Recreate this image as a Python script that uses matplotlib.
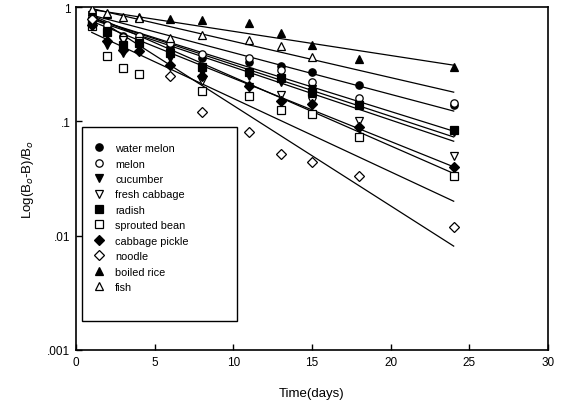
import matplotlib
matplotlib.use("Agg")
import matplotlib.pyplot as plt
from matplotlib.patches import Rectangle
from matplotlib.ticker import FixedLocator, NullLocator

plt.rcParams['font.family'] = ['Liberation Sans', 'DejaVu Sans']

# series: sampling days and fraction values
names = ['water melon', 'melon', 'cucumber', 'fresh cabbage', 'radish',
         'sprouted bean', 'cabbage pickle', 'noodle', 'boiled rice', 'fish']

days = {
    'water melon':    [1, 2, 3, 4, 6, 8, 11, 13, 15, 18, 24],
    'melon':          [1, 2, 3, 4, 6, 8, 11, 13, 15, 18, 24],
    'cucumber':       [1, 2, 3, 4, 6, 8, 11, 13, 15, 18, 24],
    'fresh cabbage':  [1, 2, 3, 4, 6, 8, 11, 13, 15, 18, 24],
    'radish':         [1, 2, 3, 4, 6, 8, 11, 13, 15, 18, 24],
    'sprouted bean':  [1, 2, 3, 4, 8, 11, 13, 15, 18, 24],
    'cabbage pickle': [1, 2, 3, 4, 6, 8, 11, 13, 15, 18, 24],
    'noodle':         [1, 6, 8, 11, 13, 15, 18, 24],
    'boiled rice':    [1, 2, 4, 6, 8, 11, 13, 15, 18, 24],
    'fish':           [1, 2, 3, 4, 6, 8, 11, 13, 15],
}
values = {
    'water melon':    [0.80, 0.64, 0.56, 0.50, 0.45, 0.36, 0.33, 0.305, 0.27, 0.21, 0.14],
    'melon':          [0.85, 0.70, 0.55, 0.56, 0.48, 0.39, 0.36, 0.28, 0.22, 0.16, 0.145],
    'cucumber':       [0.72, 0.47, 0.40, 0.45, 0.36, 0.27, 0.25, 0.22, 0.19, 0.14, 0.08],
    'fresh cabbage':  [0.85, 0.62, 0.52, 0.50, 0.40, 0.225, 0.20, 0.17, 0.15, 0.10, 0.05],
    'radish':         [0.75, 0.60, 0.47, 0.48, 0.40, 0.30, 0.27, 0.24, 0.18, 0.14, 0.084],
    'sprouted bean':  [0.68, 0.37, 0.29, 0.26, 0.184, 0.166, 0.125, 0.116, 0.073, 0.033],
    'cabbage pickle': [0.70, 0.50, 0.42, 0.41, 0.31, 0.25, 0.203, 0.15, 0.142, 0.089, 0.040],
    'noodle':         [0.78, 0.249, 0.121, 0.081, 0.052, 0.044, 0.033, 0.012],
    'boiled rice':    [0.93, 0.87, 0.82, 0.785, 0.77, 0.72, 0.59, 0.47, 0.35, 0.30],
    'fish':           [0.97, 0.88, 0.82, 0.80, 0.54, 0.57, 0.52, 0.456, 0.365],
}

# fitted lines, read at day 1 and day 24
fit_days = [1, 24]
fit_values = {
    'water melon':    [0.85, 0.123],
    'melon':          [0.80, 0.082],
    'cucumber':       [0.78, 0.067],
    'fresh cabbage':  [0.85, 0.035],
    'radish':         [0.80, 0.073],
    'sprouted bean':  [0.60, 0.020],
    'cabbage pickle': [0.75, 0.040],
    'noodle':         [0.85, 0.0081],
    'boiled rice':    [0.95, 0.31],
    'fish':           [0.97, 0.18],
}

styles = {
    'water melon':    ('o', 'k'),
    'melon':          ('o', 'w'),
    'cucumber':       ('v', 'k'),
    'fresh cabbage':  ('v', 'w'),
    'radish':         ('s', 'k'),
    'sprouted bean':  ('s', 'w'),
    'cabbage pickle': ('D', 'k'),
    'noodle':         ('D', 'w'),
    'boiled rice':    ('^', 'k'),
    'fish':           ('^', 'w'),
}

fig = plt.figure(figsize=(5.61, 4.02), dpi=100)
ax = fig.add_axes([0.1355, 0.127, 0.8415, 0.853])

for n in names:
    ax.plot(fit_days, fit_values[n], color='k', lw=0.9, zorder=2)

for n in names:
    m, fc = styles[n]
    ms = 5.0 if m == 'D' else 5.3
    ax.plot(days[n], values[n], linestyle='none', marker=m, ms=ms,
            mfc=fc, mec='k', mew=0.9, label=n, zorder=3)

ax.set_yscale('log')
ax.set_xlim(0, 30)
ax.set_ylim(0.001, 1)
ax.xaxis.set_major_locator(FixedLocator([0, 5, 10, 15, 20, 25, 30]))
ax.yaxis.set_major_locator(FixedLocator([0.001, 0.01, 0.1, 1]))
ax.yaxis.set_minor_locator(NullLocator())
ax.set_yticklabels(['.001', '.01', '.1', '1'])
ax.tick_params(direction='in', length=4, width=1, labelsize=8.5, pad=4)

for s in ax.spines.values():
    s.set_linewidth(1.2)

ax.set_xlabel('Time(days)', fontsize=9.5, labelpad=14)
ax.set_ylabel('Log(B$_o$-B)/B$_o$', fontsize=9.5, labelpad=8)

# legend box is larger than its entries in the original, so draw the frame separately
ax.add_patch(Rectangle((0.0127, 0.0845), 0.328, 0.5655, transform=ax.transAxes,
                       fill=True, facecolor='white', edgecolor='k', lw=1.0, zorder=4))
leg = ax.legend(loc='upper left', bbox_to_anchor=(0.0373, 0.603), fontsize=7.8,
                frameon=False, handlelength=1.0, handletextpad=1.0,
                borderpad=0.0, labelspacing=0.5, borderaxespad=0.0)
leg.set_zorder(5)

fig.savefig('out.png', dpi=100)
